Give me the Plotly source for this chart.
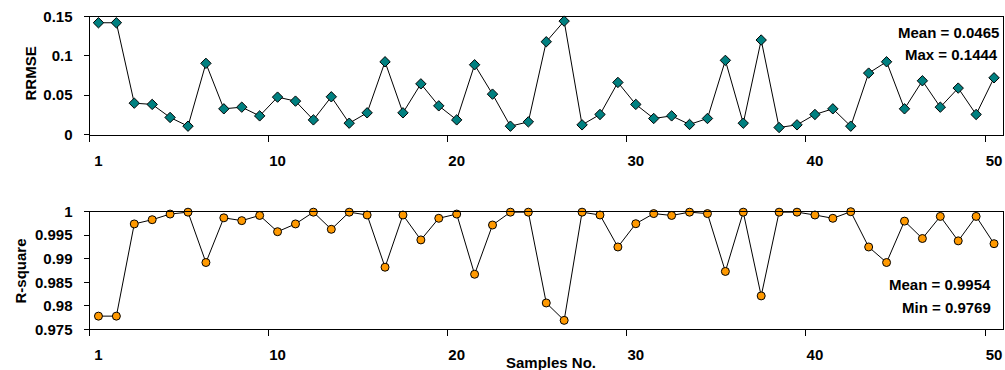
import plotly.graph_objects as go

samples = list(range(1, 52))
rrmse = [0.1423, 0.1423, 0.0399, 0.0383, 0.0217, 0.0106, 0.0906, 0.0327, 0.0348, 0.0237,
         0.0476, 0.0425, 0.0186, 0.0480, 0.0144, 0.0276, 0.0926, 0.0276, 0.0645, 0.0365,
         0.0186, 0.0888, 0.0514, 0.0106, 0.0161, 0.1181, 0.1444, 0.0123, 0.0255, 0.0663,
         0.0383, 0.0204, 0.0237, 0.0128, 0.0204, 0.0944, 0.0144, 0.1203, 0.0089, 0.0123,
         0.0255, 0.0327, 0.0106, 0.0782, 0.0926, 0.0327, 0.0684, 0.0348, 0.0591, 0.0255,
         0.0722]
rsquare = [0.9778, 0.9778, 0.9974, 0.9983, 0.9995, 0.9999, 0.9892, 0.9987, 0.9981, 0.9992,
           0.99575, 0.9974, 0.9999, 0.99626, 0.9999, 0.9993, 0.9882, 0.9993, 0.9940, 0.9986,
           0.9995, 0.9867, 0.99717, 0.9999, 0.9999, 0.9806, 0.9769, 0.9999, 0.9993, 0.9925,
           0.99745, 0.9996, 0.9992, 0.9999, 0.9996, 0.9873, 0.9999, 0.9821, 0.9999, 0.9999,
           0.9993, 0.9986, 1.0, 0.9925, 0.9892, 0.9980, 0.9943, 0.9990, 0.9938, 0.9990,
           0.9932]
x_tickvals = [1, 11, 21, 31, 41, 51]
x_ticktext = ["1", "10", "20", "30", "40", "50"]
x_boundaries = [0.5, 10.5, 20.5, 30.5, 40.5, 50.5]
top_stats = ["Mean = 0.0465", "Max = 0.1444"]
bottom_stats = ["Mean = 0.9954", "Min = 0.9769"]

W, H = 1005, 370
FONT = "Arial, 'Liberation Sans', sans-serif"


def px(x):
    return x / W


def py(y):
    return 1 - y / H


fig = go.Figure()
fig.add_trace(go.Scatter(
    x=samples, y=rrmse, mode="lines+markers", xaxis="x", yaxis="y",
    line=dict(color="black", width=1),
    marker=dict(symbol="diamond", size=8, color="#008080",
                line=dict(color="black", width=1)),
    cliponaxis=False, showlegend=False))
fig.add_trace(go.Scatter(
    x=samples, y=rsquare, mode="lines+markers", xaxis="x2", yaxis="y2",
    line=dict(color="black", width=1),
    marker=dict(symbol="circle", size=8, color="#FF9900",
                line=dict(color="black", width=1)),
    cliponaxis=False, showlegend=False))

tickfont = dict(family=FONT, size=15, color="black", weight="bold")
xdom = [px(89.5), px(1003)]

xcommon = dict(
    domain=xdom, range=[0.5, 51.5], tickmode="array", tickvals=x_tickvals,
    ticktext=x_ticktext, ticks="outside", ticklen=6, tickcolor="rgba(0,0,0,0)",
    ticklabelstandoff=6, tickfont=tickfont, showgrid=False, zeroline=False,
    showline=True, linecolor="black", linewidth=1, mirror=True, automargin=False,
    minor=dict(tickmode="array", tickvals=x_boundaries, ticks="outside",
               ticklen=6, tickcolor="black", tickwidth=1, showgrid=False),
)
ycommon = dict(
    ticks="outside", ticklen=5, tickcolor="black", tickfont=tickfont,
    ticklabelstandoff=8, showgrid=False, zeroline=False, showline=True,
    linecolor="black", linewidth=1, mirror=True, automargin=False,
)

fig.update_layout(
    width=W, height=H, autosize=False,
    margin=dict(l=0, r=0, t=0, b=0, pad=0, autoexpand=False),
    paper_bgcolor="white", plot_bgcolor="white",
    font=dict(family=FONT, color="black"),
    xaxis=dict(anchor="y", **xcommon),
    xaxis2=dict(anchor="y2", **xcommon),
    yaxis=dict(anchor="x", domain=[py(134.5), py(16.7)], range=[0, 0.15],
               tickvals=[0, 0.05, 0.1, 0.15], ticktext=["0", "0.05", "0.1", "0.15"],
               **ycommon),
    yaxis2=dict(anchor="x2", domain=[py(329.3), py(211.7)], range=[0.975, 1.0],
                tickvals=[0.975, 0.98, 0.985, 0.99, 0.995, 1.0],
                ticktext=["0.975", "0.98", "0.985", "0.99", "0.995", "1"],
                **ycommon),
)

annfont = dict(family=FONT, size=15, color="black", weight="bold")
anns = [
    dict(text=top_stats[0], x=px(1001), y=py(32), xanchor="right", yanchor="middle"),
    dict(text=top_stats[1], x=px(1000), y=py(54.5), xanchor="right", yanchor="middle"),
    dict(text=bottom_stats[0], x=px(993), y=py(284.5), xanchor="right", yanchor="middle"),
    dict(text=bottom_stats[1], x=px(993), y=py(307), xanchor="right", yanchor="middle"),
    dict(text="RRMSE", x=px(30.5), y=py(74), textangle=-90, xanchor="center", yanchor="middle"),
    dict(text="R-square", x=px(19.5), y=py(271), textangle=-90, xanchor="center", yanchor="middle"),
    dict(text="Samples No.", x=px(551), y=py(362.5), xanchor="center", yanchor="middle"),
]
for a in anns:
    fig.add_annotation(xref="paper", yref="paper", showarrow=False, font=annfont, **a)

fig.write_html(
    "out.html",
    config={"displayModeBar": False},
    post_script="document.body.style.margin='0';document.body.style.overflow='hidden';",
)
